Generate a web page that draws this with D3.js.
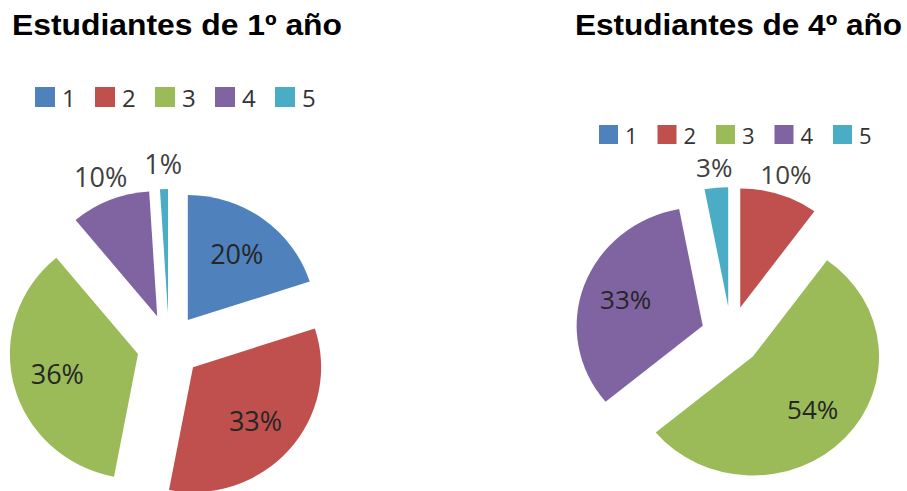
<!DOCTYPE html>
<html>
<head>
<meta charset="utf-8">
<script src="https://cdn.jsdelivr.net/npm/d3@7"></script>
<style>
  body { margin: 0; background: #fff; }
  svg { display: block; }
</style>
</head>
<body>
<script>
// datos
var categorias = ["1", "2", "3", "4", "5"];
var colores = ["#4F81BD", "#C0504D", "#9BBB59", "#8064A2", "#4BACC6"];
var titulos = ["Estudiantes de 1º año", "Estudiantes de 4º año"];
var valores1 = [20, 33, 36, 10, 1];
var valores4 = [0, 10, 54, 33, 3];

var width = 907, height = 491;

var svg = d3.select("body").append("svg")
    .attr("width", width)
    .attr("height", height);

// un grafico por grupo
var graficos = [
  { titulo: titulos[0], valores: valores1, tx: 12, tw: 330,
    cx: 169, cy: 346, r: 125, sx: 1.025, explode: 32,
    lx: 35, ly: 87, paso: 60, caja: 20, fLeyenda: 24, fEtiqueta: 27, fuera: 1.2 },
  { titulo: titulos[1], valores: valores4, tx: 575, tw: 327,
    cx: 731, cy: 336, r: 119, sx: 1.06, explode: 30,
    lx: 599, ly: 125, paso: 58.5, caja: 19, fLeyenda: 22, fEtiqueta: 26, fuera: 1.17 }
];

var color = d3.scaleOrdinal().domain(categorias).range(colores);

var pie = d3.pie().sort(null).value(function (d) { return d.v; });

graficos.forEach(function (g) {
  // titulo
  svg.append("text")
      .attr("x", g.tx)
      .attr("y", 35)
      .attr("textLength", g.tw)
      .attr("lengthAdjust", "spacingAndGlyphs")
      .style("font-family", "'Liberation Sans', Arial, sans-serif")
      .style("font-weight", "bold")
      .style("font-size", "29px")
      .attr("fill", "#000")
      .text(g.titulo);

  // leyenda
  var x = d3.scalePoint().domain(categorias).range([g.lx, g.lx + g.paso * 4]);
  var ley = svg.selectAll(null)
      .data(categorias)
      .enter().append("g")
      .attr("transform", function (c) { return "translate(" + x(c) + "," + g.ly + ")"; });
  ley.append("rect")
      .attr("width", g.caja)
      .attr("height", g.caja)
      .attr("fill", function (c) { return color(c); });
  ley.append("text")
      .attr("x", g.caja + 7)
      .attr("y", g.caja)
      .style("font-family", "'Open Sans', sans-serif")
      .style("font-size", g.fLeyenda + "px")
      .attr("fill", "#333")
      .text(function (c) { return c; });

  // tarta
  var datos = pie(categorias.map(function (c, i) { return { c: c, v: g.valores[i] }; }));
  var arco = d3.arc().innerRadius(0).outerRadius(g.r);
  var dentro = d3.arc().innerRadius(g.r * 0.65).outerRadius(g.r * 0.65);
  var afuera = d3.arc().innerRadius(g.r * g.fuera).outerRadius(g.r * g.fuera);

  function desplaza(d) {
    var a = (d.startAngle + d.endAngle) / 2;
    return [Math.sin(a) * g.explode, -Math.cos(a) * g.explode];
  }

  var centro = svg.append("g")
      .attr("transform", "translate(" + g.cx + "," + g.cy + ")");

  centro.selectAll("path")
      .data(datos.filter(function (d) { return d.data.v > 0; }))
      .enter().append("path")
      .attr("transform", function (d) {
        var o = desplaza(d);
        return "translate(" + o[0] + "," + o[1] + ") scale(" + g.sx + ",1)";
      })
      .attr("d", arco)
      .attr("fill", function (d) { return color(d.data.c); });

  centro.selectAll("text")
      .data(datos.filter(function (d) { return d.data.v > 0; }))
      .enter().append("text")
      .attr("transform", function (d) {
        var o = desplaza(d);
        var p = d.data.v <= 10 ? afuera.centroid(d) : dentro.centroid(d);
        return "translate(" + (p[0] * g.sx + o[0]) + "," + (p[1] + o[1]) + ")";
      })
      .attr("text-anchor", "middle")
      .attr("dy", "0.36em")
      .style("font-family", "'Open Sans', sans-serif")
      .style("font-size", g.fEtiqueta + "px")
      .attr("fill", function (d) { return d.data.v <= 10 ? "#404040" : "#262626"; })
      .text(function (d) { return d.data.v + "%"; });
});
</script>
</body>
</html>
